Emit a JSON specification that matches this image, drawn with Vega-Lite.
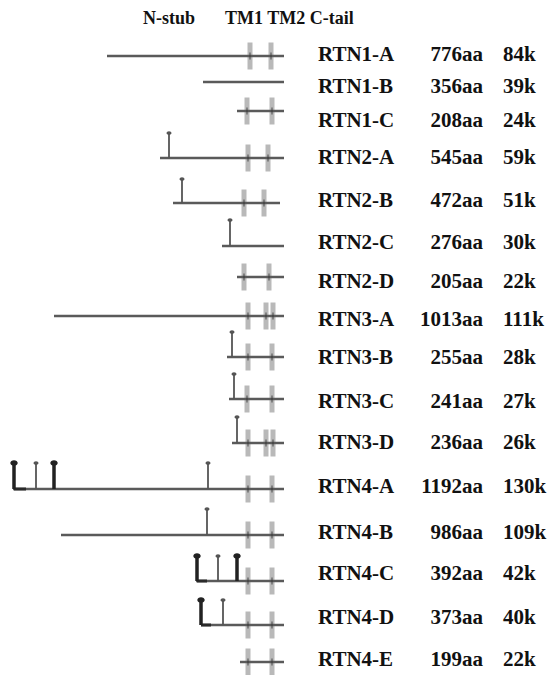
{
  "$schema": "https://vega.github.io/schema/vega-lite/v6.json",
  "width": 551,
  "height": 675,
  "padding": 0,
  "autosize": {"type": "none"},
  "background": "white",
  "config": {"view": {"stroke": null}},
  "datasets": {
    "proteins": [
      {"name": "RTN1-A", "aa": "776aa", "kda": "84k", "y": 56, "ty": 55, "start": 107, "end": 284},
      {"name": "RTN1-B", "aa": "356aa", "kda": "39k", "y": 82, "ty": 87, "start": 203, "end": 284},
      {"name": "RTN1-C", "aa": "208aa", "kda": "24k", "y": 111, "ty": 121, "start": 237, "end": 284},
      {"name": "RTN2-A", "aa": "545aa", "kda": "59k", "y": 158, "ty": 158, "start": 160, "end": 284},
      {"name": "RTN2-B", "aa": "472aa", "kda": "51k", "y": 203, "ty": 201, "start": 173, "end": 280},
      {"name": "RTN2-C", "aa": "276aa", "kda": "30k", "y": 246, "ty": 243, "start": 222, "end": 284},
      {"name": "RTN2-D", "aa": "205aa", "kda": "22k", "y": 277, "ty": 282, "start": 237, "end": 284},
      {"name": "RTN3-A", "aa": "1013aa", "kda": "111k", "y": 316, "ty": 320, "start": 54, "end": 284},
      {"name": "RTN3-B", "aa": "255aa", "kda": "28k", "y": 357, "ty": 358, "start": 227, "end": 284},
      {"name": "RTN3-C", "aa": "241aa", "kda": "27k", "y": 399, "ty": 402, "start": 229, "end": 284},
      {"name": "RTN3-D", "aa": "236aa", "kda": "26k", "y": 443, "ty": 443, "start": 232, "end": 284},
      {"name": "RTN4-A", "aa": "1192aa", "kda": "130k", "y": 489, "ty": 487, "start": 13, "end": 284},
      {"name": "RTN4-B", "aa": "986aa", "kda": "109k", "y": 535, "ty": 533, "start": 61, "end": 284},
      {"name": "RTN4-C", "aa": "392aa", "kda": "42k", "y": 581, "ty": 574, "start": 196, "end": 284},
      {"name": "RTN4-D", "aa": "373aa", "kda": "40k", "y": 625, "ty": 618, "start": 201, "end": 284},
      {"name": "RTN4-E", "aa": "199aa", "kda": "22k", "y": 662, "ty": 660, "start": 240, "end": 284}
    ],
    "tms": [
      {"name": "RTN1-A", "x": 250, "y": 56}, {"name": "RTN1-A", "x": 271, "y": 56},
      {"name": "RTN1-C", "x": 247, "y": 111}, {"name": "RTN1-C", "x": 272, "y": 111},
      {"name": "RTN2-A", "x": 248, "y": 158}, {"name": "RTN2-A", "x": 268, "y": 158},
      {"name": "RTN2-B", "x": 244, "y": 203}, {"name": "RTN2-B", "x": 264, "y": 203},
      {"name": "RTN2-D", "x": 244, "y": 277}, {"name": "RTN2-D", "x": 269, "y": 277},
      {"name": "RTN3-A", "x": 248, "y": 316}, {"name": "RTN3-A", "x": 266, "y": 316}, {"name": "RTN3-A", "x": 273, "y": 316},
      {"name": "RTN3-B", "x": 248, "y": 357}, {"name": "RTN3-B", "x": 272, "y": 357},
      {"name": "RTN3-C", "x": 247, "y": 399}, {"name": "RTN3-C", "x": 272, "y": 399},
      {"name": "RTN3-D", "x": 248, "y": 443}, {"name": "RTN3-D", "x": 266, "y": 443}, {"name": "RTN3-D", "x": 273, "y": 443},
      {"name": "RTN4-A", "x": 248, "y": 489}, {"name": "RTN4-A", "x": 272, "y": 489},
      {"name": "RTN4-B", "x": 248, "y": 535}, {"name": "RTN4-B", "x": 272, "y": 535},
      {"name": "RTN4-C", "x": 248, "y": 581}, {"name": "RTN4-C", "x": 272, "y": 581},
      {"name": "RTN4-D", "x": 248, "y": 625}, {"name": "RTN4-D", "x": 272, "y": 625},
      {"name": "RTN4-E", "x": 248, "y": 662}, {"name": "RTN4-E", "x": 272, "y": 662}
    ],
    "stubs": [
      {"name": "RTN2-A", "x": 169, "y": 158, "top": 133, "kind": "single"},
      {"name": "RTN2-B", "x": 182, "y": 203, "top": 179, "kind": "single"},
      {"name": "RTN2-C", "x": 230, "y": 246, "top": 220, "kind": "single"},
      {"name": "RTN3-B", "x": 232, "y": 357, "top": 332, "kind": "single"},
      {"name": "RTN3-C", "x": 234, "y": 399, "top": 374, "kind": "single"},
      {"name": "RTN3-D", "x": 237, "y": 443, "top": 417, "kind": "single"},
      {"name": "RTN4-A", "x": 14, "y": 489, "top": 463, "kind": "double"},
      {"name": "RTN4-A", "x": 36, "y": 489, "top": 463, "kind": "single"},
      {"name": "RTN4-A", "x": 54, "y": 489, "top": 463, "kind": "double"},
      {"name": "RTN4-A", "x": 208, "y": 489, "top": 463, "kind": "single"},
      {"name": "RTN4-B", "x": 207, "y": 535, "top": 509, "kind": "single"},
      {"name": "RTN4-C", "x": 197, "y": 581, "top": 556, "kind": "double"},
      {"name": "RTN4-C", "x": 218, "y": 581, "top": 556, "kind": "single"},
      {"name": "RTN4-C", "x": 237, "y": 581, "top": 556, "kind": "double"},
      {"name": "RTN4-D", "x": 201, "y": 625, "top": 600, "kind": "double"},
      {"name": "RTN4-D", "x": 223, "y": 625, "top": 600, "kind": "single"}
    ],
    "brackets": [
      {"name": "RTN4-A", "x": 14, "x2": 26, "y": 489},
      {"name": "RTN4-C", "x": 197, "x2": 207, "y": 581},
      {"name": "RTN4-D", "x": 201, "x2": 211, "y": 625}
    ],
    "headers": [
      {"text": "N-stub", "x": 143, "y": 19},
      {"text": "TM1 TM2 C-tail", "x": 225, "y": 19}
    ]
  },
  "layer": [
    {
      "data": {"name": "tms"},
      "mark": {"type": "tick", "orient": "vertical", "color": "#b9b9b9", "thickness": 5, "size": 27, "opacity": 1},
      "encoding": {
        "x": {"field": "x", "type": "quantitative", "scale": {"domain": [0, 551], "nice": false, "zero": false}, "axis": null},
        "y": {"field": "y", "type": "quantitative", "scale": {"domain": [0, 675], "reverse": true, "nice": false, "zero": false}, "axis": null}
      }
    },
    {
      "data": {"name": "proteins"},
      "mark": {"type": "rule", "color": "#5a5a5a", "strokeWidth": 2.5},
      "encoding": {
        "x": {"field": "start", "type": "quantitative", "scale": {"domain": [0, 551], "nice": false, "zero": false}, "axis": null},
        "x2": {"field": "end"},
        "y": {"field": "y", "type": "quantitative", "scale": {"domain": [0, 675], "reverse": true, "nice": false, "zero": false}, "axis": null}
      }
    },
    {
      "data": {"name": "tms"},
      "mark": {"type": "tick", "orient": "vertical", "color": "#333333", "thickness": 1.2, "size": 7},
      "encoding": {
        "x": {"field": "x", "type": "quantitative", "scale": {"domain": [0, 551], "nice": false, "zero": false}, "axis": null},
        "y": {"field": "y", "type": "quantitative", "scale": {"domain": [0, 675], "reverse": true, "nice": false, "zero": false}, "axis": null}
      }
    },
    {
      "data": {"name": "brackets"},
      "mark": {"type": "rule", "color": "#2a2a2a", "strokeWidth": 3},
      "encoding": {
        "x": {"field": "x", "type": "quantitative", "scale": {"domain": [0, 551], "nice": false, "zero": false}, "axis": null},
        "x2": {"field": "x2"},
        "y": {"field": "y", "type": "quantitative", "scale": {"domain": [0, 675], "reverse": true, "nice": false, "zero": false}, "axis": null}
      }
    },
    {
      "data": {"name": "stubs"},
      "mark": {"type": "rule"},
      "encoding": {
        "x": {"field": "x", "type": "quantitative", "scale": {"domain": [0, 551], "nice": false, "zero": false}, "axis": null},
        "y": {"field": "y", "type": "quantitative", "scale": {"domain": [0, 675], "reverse": true, "nice": false, "zero": false}, "axis": null},
        "y2": {"field": "top"},
        "strokeWidth": {"field": "kind", "type": "nominal", "scale": {"domain": ["single", "double"], "range": [1.8, 3.5]}, "legend": null},
        "color": {"field": "kind", "type": "nominal", "scale": {"domain": ["single", "double"], "range": ["#555555", "#222222"]}, "legend": null}
      }
    },
    {
      "data": {"name": "stubs"},
      "mark": {"type": "point", "filled": true, "opacity": 1, "shape": "M-1,0A1,0.75 0 1,1 1,0A1,0.75 0 1,1 -1,0Z"},
      "encoding": {
        "x": {"field": "x", "type": "quantitative", "scale": {"domain": [0, 551], "nice": false, "zero": false}, "axis": null},
        "y": {"field": "top", "type": "quantitative", "scale": {"domain": [0, 675], "reverse": true, "nice": false, "zero": false}, "axis": null},
        "size": {"field": "kind", "type": "nominal", "scale": {"domain": ["single", "double"], "range": [25, 55]}, "legend": null},
        "color": {"field": "kind", "type": "nominal", "scale": {"domain": ["single", "double"], "range": ["#5a5a5a", "#4a4a4a"]}, "legend": null}
      }
    },
    {
      "data": {"name": "headers"},
      "mark": {"type": "text", "font": "Liberation Serif", "fontWeight": "bold", "fontSize": 18, "align": "left", "baseline": "middle", "color": "#111111"},
      "encoding": {
        "x": {"field": "x", "type": "quantitative", "scale": {"domain": [0, 551], "nice": false, "zero": false}, "axis": null},
        "y": {"field": "y", "type": "quantitative", "scale": {"domain": [0, 675], "reverse": true, "nice": false, "zero": false}, "axis": null},
        "text": {"field": "text"}
      }
    },
    {
      "data": {"name": "proteins"},
      "mark": {"type": "text", "font": "Liberation Serif", "fontWeight": "bold", "fontSize": 21, "align": "left", "baseline": "middle", "color": "#111111"},
      "encoding": {
        "x": {"datum": 318, "type": "quantitative", "scale": {"domain": [0, 551], "nice": false, "zero": false}, "axis": null},
        "y": {"field": "ty", "type": "quantitative", "scale": {"domain": [0, 675], "reverse": true, "nice": false, "zero": false}, "axis": null},
        "text": {"field": "name"}
      }
    },
    {
      "data": {"name": "proteins"},
      "mark": {"type": "text", "font": "Liberation Serif", "fontWeight": "bold", "fontSize": 21, "align": "right", "baseline": "middle", "color": "#111111"},
      "encoding": {
        "x": {"datum": 483, "type": "quantitative", "scale": {"domain": [0, 551], "nice": false, "zero": false}, "axis": null},
        "y": {"field": "ty", "type": "quantitative", "scale": {"domain": [0, 675], "reverse": true, "nice": false, "zero": false}, "axis": null},
        "text": {"field": "aa"}
      }
    },
    {
      "data": {"name": "proteins"},
      "mark": {"type": "text", "font": "Liberation Serif", "fontWeight": "bold", "fontSize": 21, "align": "left", "baseline": "middle", "color": "#111111"},
      "encoding": {
        "x": {"datum": 503, "type": "quantitative", "scale": {"domain": [0, 551], "nice": false, "zero": false}, "axis": null},
        "y": {"field": "ty", "type": "quantitative", "scale": {"domain": [0, 675], "reverse": true, "nice": false, "zero": false}, "axis": null},
        "text": {"field": "kda"}
      }
    }
  ]
}
